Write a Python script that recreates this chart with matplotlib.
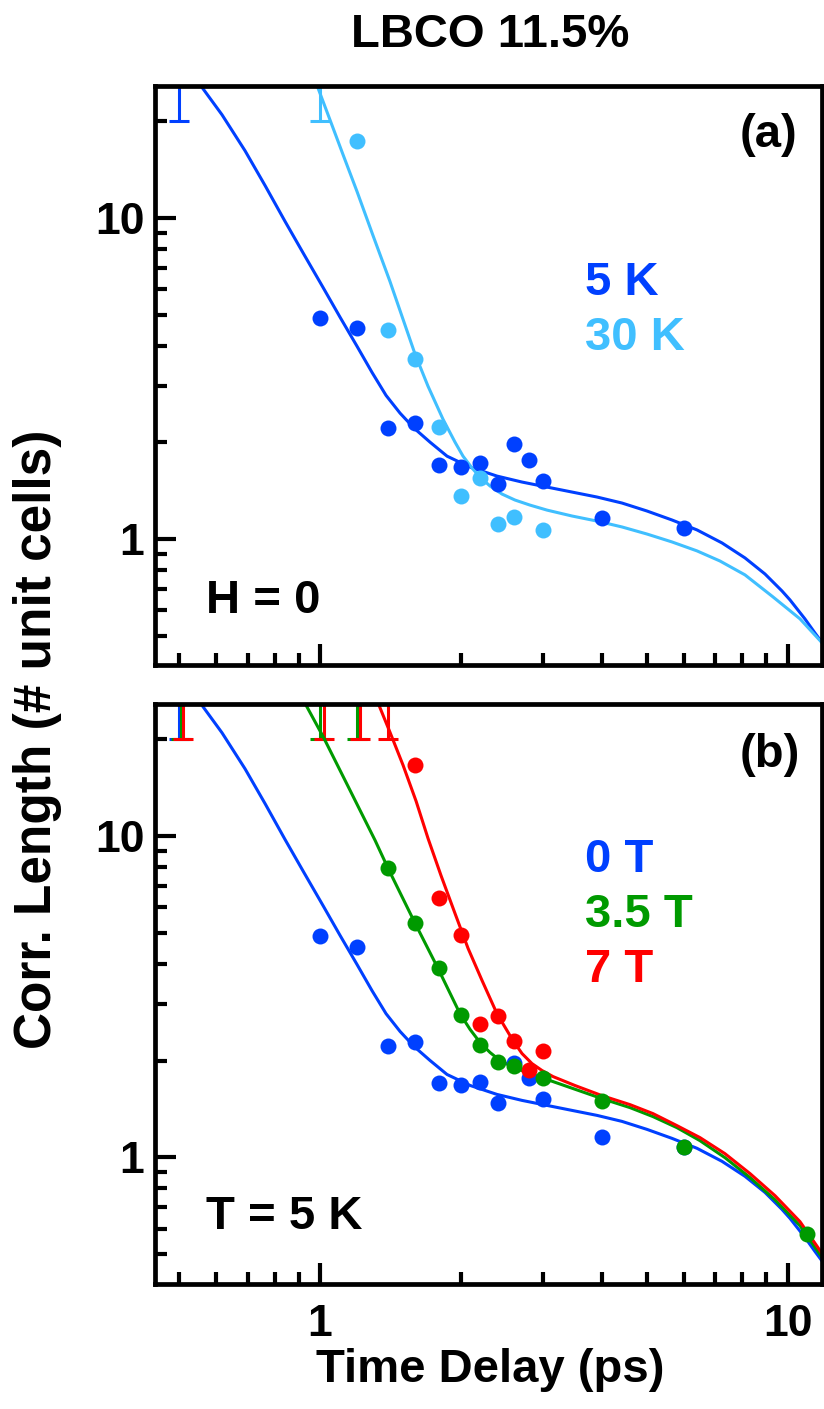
import matplotlib
matplotlib.use("Agg")
import matplotlib.pyplot as plt
from matplotlib.ticker import LogLocator, NullFormatter, FixedLocator, FixedFormatter

plt.rcParams["font.family"] = ["Liberation Sans", "DejaVu Sans"]
plt.rcParams["font.weight"] = "bold"

DARK = "#0040ff"
LIGHT = "#40bfff"
GREEN = "#009a00"
RED = "#ff0000"

# --- measured points (ps, unit cells) ---
t_5k = [1.0, 1.2, 1.4, 1.6, 1.8, 2.0, 2.2, 2.4, 2.6, 2.8, 3.0, 4.0, 6.0]
xi_5k = [4.87, 4.53, 2.22, 2.29, 1.70, 1.68, 1.72, 1.48, 1.97, 1.76, 1.52, 1.16, 1.08]

t_30k = [1.2, 1.4, 1.6, 1.8, 2.0, 2.2, 2.4, 2.6, 3.0]
xi_30k = [17.3, 4.47, 3.63, 2.24, 1.36, 1.55, 1.11, 1.17, 1.07]

t_35t = [1.4, 1.6, 1.8, 2.0, 2.2, 2.4, 2.6, 3.0, 4.0, 6.0, 11.0]
xi_35t = [7.93, 5.35, 3.87, 2.78, 2.24, 1.98, 1.92, 1.77, 1.50, 1.08, 0.578]

t_7t = [1.6, 1.8, 2.0, 2.2, 2.4, 2.6, 2.8, 3.0]
xi_7t = [16.6, 6.40, 4.91, 2.60, 2.75, 2.30, 1.87, 2.15]

# --- fit curves ---
fit_5k_t = [0.554, 0.617, 0.691, 0.763, 0.842, 0.924, 1.015, 1.104, 1.200, 1.292,
            1.384, 1.483, 1.589, 1.719, 1.869, 2.094, 2.390, 2.704, 3.058, 3.459,
            3.911, 4.424, 5.004, 5.658, 6.402, 7.240, 8.108, 8.947, 9.727, 10.12,
            10.89, 11.44, 11.90]
fit_5k_y = [25.97, 20.95, 16.19, 12.60, 9.74, 7.69, 6.07, 4.90, 3.98, 3.30,
            2.80, 2.465, 2.213, 2.002, 1.811, 1.674, 1.570, 1.504, 1.451, 1.400,
            1.351, 1.294, 1.222, 1.146, 1.067, 0.972, 0.873, 0.778, 0.689, 0.646,
            0.564, 0.510, 0.472]

fit_30k_t = [0.984, 1.050, 1.120, 1.200, 1.298, 1.411, 1.505, 1.597, 1.702, 1.832,
             1.944, 2.022, 2.114, 2.199, 2.310, 2.450, 2.612, 2.812, 3.058, 3.459,
             3.911, 4.424, 5.004, 5.658, 6.402, 7.166, 8.108, 9.307, 10.63, 11.90]
fit_30k_y = [25.97, 20.21, 15.73, 12.07, 8.81, 6.34, 4.83, 3.76, 2.99, 2.361,
             2.002, 1.811, 1.663, 1.558, 1.462, 1.380, 1.322, 1.275, 1.230, 1.179,
             1.137, 1.090, 1.036, 0.979, 0.918, 0.854, 0.773, 0.660, 0.564, 0.472]

fit_35t_t = [0.929, 1.016, 1.159, 1.311, 1.398, 1.597, 1.788, 1.992, 2.094, 2.199,
             2.310, 2.427, 2.574, 2.772, 3.150, 4.010, 4.603, 5.155, 5.801, 6.497,
             7.346, 8.313, 9.400, 10.63, 11.90]
fit_35t_y = [25.85, 20.34, 13.88, 9.70, 7.93, 5.35, 3.87, 2.80, 2.50, 2.277,
             2.120, 2.001, 1.917, 1.835, 1.721, 1.523, 1.428, 1.339, 1.237, 1.127,
             0.998, 0.865, 0.738, 0.613, 0.484]

fit_7t_t = [1.332, 1.411, 1.505, 1.605, 1.702, 1.814, 1.944, 2.073, 2.221, 2.390,
            2.586, 2.704, 2.840, 2.984, 3.150, 3.511, 4.010, 4.603, 5.155, 5.801,
            6.497, 7.346, 8.313, 9.400, 10.63, 11.90]
fit_7t_y = [25.85, 21.04, 16.61, 12.83, 9.83, 7.54, 5.74, 4.47, 3.55, 2.80,
            2.310, 2.104, 1.958, 1.863, 1.784, 1.673, 1.556, 1.459, 1.368, 1.255,
            1.152, 1.027, 0.890, 0.760, 0.631, 0.498]

# --- off-scale points: only the lower error bar (down to 20) is visible ---
off_5k_t = [0.5]
off_30k_t = [1.0]
off_0t_t = [0.5]
off_35t_t = [0.505, 1.0, 1.2]
off_7t_t = [0.51, 1.02, 1.22, 1.4]
off_low = 20.0
off_y = 60.0

XLIM = (0.4446, 11.85)
YLIM = (0.405, 25.75)


def style_axis(ax, show_xlabels):
    ax.set_xscale("log")
    ax.set_yscale("log")
    ax.set_xlim(*XLIM)
    ax.set_ylim(*YLIM)
    for sp in ax.spines.values():
        sp.set_linewidth(3.4)
    ax.xaxis.set_major_locator(FixedLocator([1, 10]))
    ax.yaxis.set_major_locator(FixedLocator([1, 10]))
    ax.xaxis.set_minor_locator(LogLocator(base=10, subs=range(2, 10), numticks=20))
    ax.yaxis.set_minor_locator(LogLocator(base=10, subs=range(2, 10), numticks=20))
    ax.xaxis.set_minor_formatter(NullFormatter())
    ax.yaxis.set_minor_formatter(NullFormatter())
    ax.yaxis.set_major_formatter(FixedFormatter(["1", "10"]))
    if show_xlabels:
        ax.xaxis.set_major_formatter(FixedFormatter(["1", "10"]))
    else:
        ax.xaxis.set_major_formatter(NullFormatter())
    ax.tick_params(which="both", direction="in", top=False, right=False,
                   width=3.0, labelsize=32)
    ax.tick_params(which="major", length=15)
    ax.tick_params(which="minor", length=8.5)
    ax.tick_params(axis="x", which="major", pad=15)
    ax.tick_params(axis="y", which="major", pad=8)


def off_scale(ax, t, color):
    ys = [off_y] * len(t)
    low = [off_y - off_low] * len(t)
    ax.errorbar(t, ys, yerr=[low, [0] * len(t)], fmt="none", ecolor=color,
                elinewidth=2.2, capsize=7, capthick=2.2)


fig = plt.figure(figsize=(8.24, 14.09), dpi=100)
ax1 = fig.add_axes([0.1887, 0.52803, 0.8089, 0.41093])
ax2 = fig.add_axes([0.1887, 0.08907, 0.8089, 0.41128])

ms = 11.5
lw = 2.2
line_kw = dict(lw=lw, solid_joinstyle="round", solid_capstyle="round")

# panel (a): H = 0
off_scale(ax1, off_5k_t, DARK)
off_scale(ax1, off_30k_t, LIGHT)
ax1.plot(fit_5k_t, fit_5k_y, color=DARK, **line_kw)
ax1.plot(fit_30k_t, fit_30k_y, color=LIGHT, **line_kw)
ax1.plot(t_5k, xi_5k, "o", color=DARK, ms=ms, mec="none")
ax1.plot(t_30k, xi_30k, "o", color=LIGHT, ms=ms, mec="none")
style_axis(ax1, False)

fs = 34
ax1.text(0.877, 0.915, "(a)", transform=ax1.transAxes, fontsize=fs, va="center")
ax1.text(0.6445, 0.66, "5 K", transform=ax1.transAxes, fontsize=fs, va="center", color=DARK)
ax1.text(0.6445, 0.565, "30 K", transform=ax1.transAxes, fontsize=fs, va="center", color=LIGHT)
ax1.text(0.0758, 0.1105, "H = 0", transform=ax1.transAxes, fontsize=fs, va="center")

# panel (b): T = 5 K
off_scale(ax2, off_0t_t, DARK)
off_scale(ax2, off_35t_t, GREEN)
off_scale(ax2, off_7t_t, RED)
ax2.plot(fit_5k_t, fit_5k_y, color=DARK, **line_kw)
ax2.plot(fit_35t_t, fit_35t_y, color=GREEN, **line_kw)
ax2.plot(fit_7t_t, fit_7t_y, color=RED, **line_kw)
ax2.plot(t_5k, xi_5k, "o", color=DARK, ms=ms, mec="none")
ax2.plot(t_7t, xi_7t, "o", color=RED, ms=ms, mec="none")
ax2.plot(t_35t, xi_35t, "o", color=GREEN, ms=ms, mec="none")
style_axis(ax2, True)

ax2.text(0.877, 0.912, "(b)", transform=ax2.transAxes, fontsize=fs, va="center")
ax2.text(0.6445, 0.731, "0 T", transform=ax2.transAxes, fontsize=fs, va="center", color=DARK)
ax2.text(0.6445, 0.636, "3.5 T", transform=ax2.transAxes, fontsize=fs, va="center", color=GREEN)
ax2.text(0.6445, 0.541, "7 T", transform=ax2.transAxes, fontsize=fs, va="center", color=RED)
ax2.text(0.0758, 0.1148, "T = 5 K", transform=ax2.transAxes, fontsize=fs, va="center")

fig.text(0.595, 0.975, "LBCO 11.5%", fontsize=fs, ha="center", va="center")
fig.text(0.595, 0.0277, "Time Delay (ps)", fontsize=fs, ha="center", va="center")
fig.text(0.046, 0.475, "Corr. Length (# unit cells)", fontsize=37, ha="center",
         va="center", rotation=90)

fig.savefig("out.png", dpi=100)
